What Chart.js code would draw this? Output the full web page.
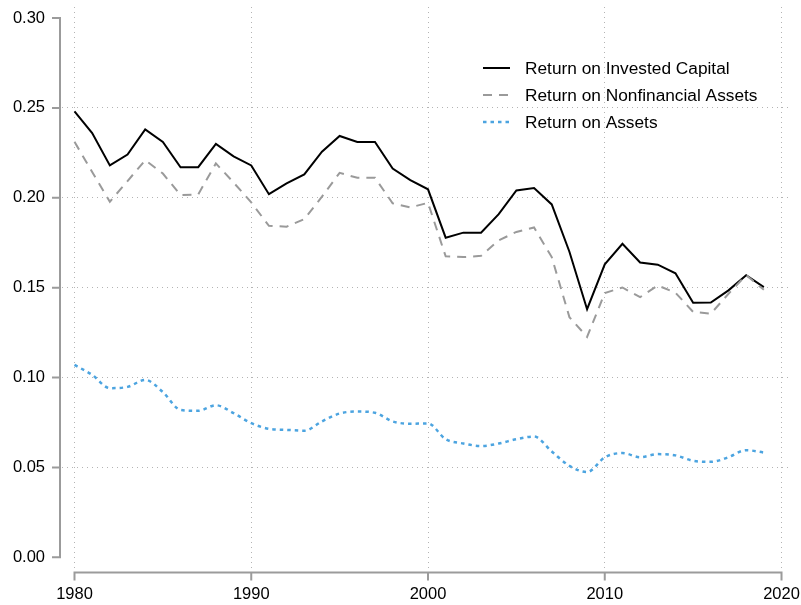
<!DOCTYPE html>
<html>
<head>
<meta charset="utf-8">
<script src="https://cdn.jsdelivr.net/npm/chart.js@4.4.1/dist/chart.umd.min.js"></script>
<style>
  html, body { margin: 0; padding: 0; background: #fff; }
</style>
</head>
<body>
<canvas id="chart" width="801" height="605"></canvas>
<script>
// years 1980-2019
const years = [];
for (let yr = 1980; yr <= 2019; yr++) years.push(yr);

const roic = [0.248, 0.236, 0.218, 0.224, 0.238, 0.231, 0.217, 0.217, 0.230, 0.223,
  0.218, 0.202, 0.208, 0.213, 0.2256, 0.2344, 0.231, 0.231, 0.2163, 0.2098,
  0.2047, 0.1778, 0.1806, 0.1806, 0.1909, 0.2041, 0.2054, 0.1963, 0.170, 0.138,
  0.163, 0.1744, 0.164, 0.1628, 0.158, 0.1416, 0.1417, 0.1485, 0.1569, 0.1503];

const ronfa = [0.2311, 0.2144, 0.1978, 0.2093, 0.2209, 0.2135, 0.2015, 0.2019, 0.2191, 0.2085,
  0.1974, 0.1844, 0.1839, 0.1881, 0.2006, 0.2139, 0.2111, 0.2111, 0.1969, 0.1946,
  0.1972, 0.1674, 0.1670, 0.1677, 0.1763, 0.181, 0.1835, 0.167, 0.1336, 0.1226,
  0.147, 0.1501, 0.1447, 0.1512, 0.1472, 0.1365, 0.1355, 0.1466, 0.157, 0.1488];

const roa = [0.107, 0.1015, 0.0941, 0.0948, 0.0987, 0.0919, 0.082, 0.0815, 0.0846, 0.0802,
  0.0746, 0.0715, 0.0709, 0.0704, 0.0756, 0.08, 0.0811, 0.0804, 0.0756, 0.0743,
  0.0745, 0.0657, 0.0633, 0.0619, 0.0633, 0.0657, 0.0672, 0.0589, 0.0509, 0.0474,
  0.0556, 0.058, 0.0557, 0.0574, 0.0567, 0.0537, 0.0531, 0.0557, 0.0596, 0.0583];

const xTicks = [1980, 1990, 2000, 2010, 2020];
const yTicks = [0, 0.05, 0.10, 0.15, 0.20, 0.25, 0.30];

const FONT = "'Liberation Sans', Arial, Helvetica, sans-serif";
const gridColor = "#b4b4b4";
const axisColor = "#9b9b9b";

function pts(arr) {
  return arr.map((v, i) => ({ x: years[i], y: v }));
}

// stata-like axes, offset from the plot region
const axisLines = {
  id: "axisLines",
  afterDraw(chart) {
    const ctx = chart.ctx;
    const x = chart.scales.x;
    const y = chart.scales.y;
    const ax = chart.chartArea.left - 2;
    const ay = chart.chartArea.bottom + 2.5;
    ctx.save();
    ctx.strokeStyle = axisColor;
    ctx.lineWidth = 2;
    ctx.setLineDash([]);
    ctx.beginPath();
    ctx.moveTo(ax, y.getPixelForValue(yTicks[yTicks.length - 1]));
    ctx.lineTo(ax, y.getPixelForValue(yTicks[0]));
    yTicks.forEach((t) => {
      const py = y.getPixelForValue(t);
      ctx.moveTo(ax - 8, py);
      ctx.lineTo(ax + 1, py);
    });
    ctx.moveTo(x.getPixelForValue(xTicks[0]), ay);
    ctx.lineTo(x.getPixelForValue(xTicks[xTicks.length - 1]), ay);
    xTicks.forEach((t) => {
      const px = x.getPixelForValue(t);
      ctx.moveTo(px, ay - 1);
      ctx.lineTo(px, ay + 8);
    });
    ctx.stroke();
    ctx.restore();
  },
};

// legend inside the plot, no frame
const legendBox = {
  id: "legendBox",
  afterDraw(chart) {
    const ctx = chart.ctx;
    const rows = [68, 95, 122];
    ctx.save();
    ctx.font = "17.3px " + FONT;
    ctx.textBaseline = "middle";
    ctx.fillStyle = "#000";
    chart.data.datasets.forEach((ds, i) => {
      const yy = rows[i];
      ctx.strokeStyle = ds.borderColor;
      ctx.lineWidth = ds.borderWidth;
      ctx.setLineDash(ds.borderDash || []);
      ctx.beginPath();
      ctx.moveTo(483, yy);
      ctx.lineTo(510, yy);
      ctx.stroke();
      ctx.setLineDash([]);
      ctx.fillText(ds.label, 525, yy + 1);
    });
    ctx.restore();
  },
};

const ctx = document.getElementById("chart").getContext("2d");
const myChart = new Chart(ctx, {
  type: "line",
  data: {
    datasets: [
      {
        label: "Return on Invested Capital",
        data: pts(roic),
        borderColor: "#000000",
        borderWidth: 2,
        pointRadius: 0,
        tension: 0,
        order: 2,
      },
      {
        label: "Return on Nonfinancial Assets",
        data: pts(ronfa),
        borderColor: "#9a9a9a",
        borderWidth: 2,
        borderDash: [9, 7],
        pointRadius: 0,
        tension: 0,
        order: 1,
      },
      {
        label: "Return on Assets",
        data: pts(roa),
        borderColor: "#4ca4e0",
        borderWidth: 2.5,
        borderDash: [3.5, 4],
        pointRadius: 0,
        cubicInterpolationMode: "monotone",
        order: 3,
      },
    ],
  },
  options: {
    responsive: false,
    animation: false,
    devicePixelRatio: 1,
    layout: { padding: { top: 7, right: 11, left: 0, bottom: 0 } },
    plugins: {
      legend: { display: false },
      tooltip: { enabled: false },
    },
    scales: {
      x: {
        type: "linear",
        min: 1979.293,
        max: 2020.48,
        afterBuildTicks: (scale) => {
          scale.ticks = xTicks.map((v) => ({ value: v }));
        },
        afterFit: (scale) => {
          scale.height = 35;
          scale.paddingLeft = 0;
          scale.paddingRight = 0;
        },
        ticks: {
          color: "#000",
          font: { family: FONT, size: 16.5 },
          padding: 15,
          maxRotation: 0,
          autoSkip: false,
          callback: (v) => String(v),
        },
        grid: { color: gridColor, lineWidth: 1, drawTicks: false },
        border: { display: false, dash: [1, 4] },
      },
      y: {
        min: -0.00706,
        max: 0.30612,
        afterBuildTicks: (scale) => {
          scale.ticks = yTicks.map((v) => ({ value: v }));
        },
        afterFit: (scale) => {
          scale.width = 62;
          scale.paddingTop = 0;
          scale.paddingBottom = 0;
        },
        ticks: {
          color: "#000",
          font: { family: FONT, size: 16.5 },
          padding: 17,
          callback: (v) => v.toFixed(2),
        },
        grid: {
          color: (c) =>
            c.tick && c.tick.value > 0.001 && c.tick.value < 0.299 ? gridColor : "rgba(0,0,0,0)",
          lineWidth: 1,
          drawTicks: false,
        },
        border: { display: false, dash: [1, 4] },
      },
    },
  },
  plugins: [axisLines, legendBox],
});
</script>
</body>
</html>
